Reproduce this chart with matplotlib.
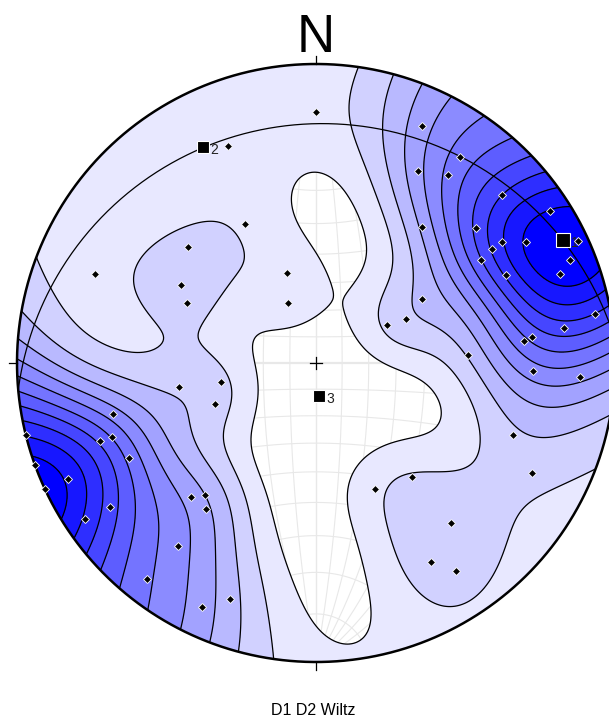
import numpy as np
import matplotlib
matplotlib.use("Agg")
import matplotlib.pyplot as plt
from matplotlib.patches import Circle

plt.rcParams['font.family'] = ['Liberation Sans', 'DejaVu Sans']

# ---- data: poles (trend, plunge in degrees, lower hemisphere) ----
trends = [24, 35, 28, 35, 48, 57, 50, 38, 57, 57, 60, 65, 58, 68, 65, 70, 59, 64,
          62, 80, 82, 83, 84, 87, 92, 93, 110, 117, 140, 155, 140, 150, 146,
          256, 256, 250, 250, 243, 250, 245, 245, 235, 236, 217, 223, 220, 217,
          218, 205, 200,
          260, 259, 248, 295, 300, 312, 292, 333, 342, 335, 0, 338]
plunges = [8, 10, 18, 15, 10, 4, 20, 30, 20, 17, 12, 2, 24, 5, 20, 8, 45, 53,
           60, 3, 10, 18, 20, 36, 18, 7, 20, 12, 37, 40, 20, 15, 10,
           0, 20, 15, 18, 20, 0, 5, 0, 10, 4, 15, 27, 30, 27,
           5, 6, 10,
           40, 54, 50, 39, 35, 30, 13, 35, 55, 65, 10, 14]

# eigenvectors
eig_trends = [63.5, 332.4, 174.8]
eig_plunges = [4.5, 11.5, 77.3]
eig_labels = ['1', '2', '3']

title = "D1 D2 Wiltz"
north_label = "N"

# ---- layout (pixels) ----
W, H = 609, 718
cx, cy, R = 316.0, 363.0, 299.0


def vec(t, p):
    t = np.radians(np.asarray(t, float))
    p = np.radians(np.asarray(p, float))
    return np.stack([np.cos(p) * np.cos(t), np.cos(p) * np.sin(t), np.sin(p)], axis=-1)


def proj(v):
    v = np.where(v[..., 2:3] < 0, -v, v)
    return v[..., 1] / (1 + v[..., 2]), v[..., 0] / (1 + v[..., 2])


fig = plt.figure(figsize=(W / 100, H / 100), dpi=100)
ax = fig.add_axes([0, 0, 1, 1])
ax.set_xlim(-cx / R, (W - cx) / R)
ax.set_ylim(-(H - cy) / R, cy / R)
ax.axis('off')

clip = Circle((0, 0), 1.0, transform=ax.transData, facecolor='none', edgecolor='none')
ax.add_patch(clip)

# ---- Wulff net ----
phi = np.linspace(0, np.pi, 361)
netc = '#e8e8e8'
for a in range(10, 180, 10):
    d = np.radians(a)
    v = np.stack([np.cos(phi), np.sin(phi) * np.cos(d), np.sin(phi) * np.sin(d)], -1)
    x, y = proj(v)
    ax.plot(x, y, color=netc, lw=0.8 if a != 90 else 1.0, zorder=1)
    v = np.stack([np.full_like(phi, np.cos(d)), np.sin(d) * np.cos(phi), np.sin(d) * np.sin(phi)], -1)
    x, y = proj(v)
    ax.plot(x, y, color=netc, lw=0.8 if a != 90 else 1.6, zorder=1)

# ---- density (axial data, exponential kernel) ----
P = vec(trends, plunges)
g = np.linspace(-1.06, 1.06, 321)
gx, gy = np.meshgrid(g, g)
rho2 = gx ** 2 + gy ** 2
G = np.stack([2 * gy / (1 + rho2), 2 * gx / (1 + rho2), (1 - rho2) / (1 + rho2)], -1)
cosd = np.abs(G @ P.T)
kappa = 20.0
dens = np.exp(kappa * (cosd - 1)).sum(-1)
inside = rho2 <= 1.0
dmin, dmax = dens[inside].min(), dens[inside].max()
levels = np.linspace(dmin, dmax, 13)[1:-1]
colors = [(1 - k / 11, 1 - k / 11, 1.0) for k in range(1, 12)]
cf = ax.contourf(gx, gy, dens, levels=list(levels) + [dens.max() + 1], colors=colors, zorder=2)
cf.set_clip_path(clip)
cl = ax.contour(gx, gy, dens, levels=levels, colors='k', linewidths=0.9, zorder=3)
cl.set_clip_path(clip)

# ---- best-fit great circle (plane normal to eigenvector 3) ----
nvec = vec(eig_trends[2], eig_plunges[2])
a_ = np.cross(nvec, [0, 0, 1.0]); a_ /= np.linalg.norm(a_)
b_ = np.cross(nvec, a_); b_ /= np.linalg.norm(b_)
if b_[2] < 0:
    b_ = -b_
th = np.linspace(0, np.pi, 361)
gv = np.cos(th)[:, None] * a_ + np.sin(th)[:, None] * b_
x, y = proj(gv)
ax.plot(x, y, color='k', lw=0.9, zorder=4)

# ---- primitive, ticks, centre ----
t = np.linspace(0, 2 * np.pi, 721)
ax.plot(np.cos(t), np.sin(t), color='k', lw=1.8, zorder=6)
tk = 8.0 / R
for ang in (0, 90, 180, 270):
    s, c = np.sin(np.radians(ang)), np.cos(np.radians(ang))
    ax.plot([s, s * (1 + tk)], [c, c * (1 + tk)], color='k', lw=0.9, zorder=6)
cs = 6.0 / R
ax.plot([-cs, cs], [0, 0], color='k', lw=0.9, zorder=6)
ax.plot([0, 0], [-cs, cs], color='k', lw=0.9, zorder=6)

# ---- eigenvectors ----
ex, ey = proj(vec(eig_trends, eig_plunges))
sq_sizes = [9.5, 8.3, 8.0]
for i in range(3):
    ax.text(ex[i] + 7.5 / R, ey[i] - 3.0 / R, eig_labels[i], fontsize=10, color='#222222',
            ha='left', va='center', zorder=7)
    ax.plot(ex[i], ey[i], 's', ms=sq_sizes[i], color='k', mec='white', mew=0.8, zorder=9)

# ---- poles ----
px, py = proj(P)
ax.plot(px, py, 'D', ms=4.5, color='k', mec='white', mew=0.6, ls='none', zorder=8)

# ---- labels ----
ax.text(0, (cy - 52) / R, north_label, fontsize=38, ha='center', va='baseline', color='k')
ax.text((313 - cx) / R, -(715 - cy) / R, title, fontsize=11.5, ha='center', va='baseline', color='k')

fig.savefig('out.png', dpi=100)
